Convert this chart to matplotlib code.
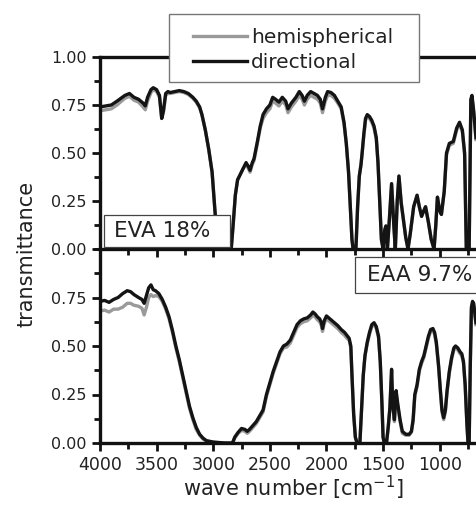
import matplotlib
matplotlib.use('Agg')
import matplotlib.pyplot as plt
from matplotlib.patches import Rectangle
from matplotlib.ticker import MultipleLocator, FixedLocator

# ----- data -----

# EVA 18%  (top panel)
wn_eva = [4000, 3950, 3900, 3850, 3780, 3740, 3700, 3660, 3620, 3600,
          3580, 3550, 3530, 3500, 3475, 3455, 3440, 3420, 3400, 3380,
          3340, 3300, 3260, 3220, 3180, 3150, 3120, 3100, 3070, 3040,
          3010, 2985, 2960, 2950, 2860, 2840, 2825, 2805, 2785, 2760,
          2735, 2710, 2690, 2675, 2655, 2640, 2610, 2585, 2560, 2530,
          2500, 2475, 2450, 2420, 2390, 2360, 2340, 2310, 2270, 2240,
          2215, 2195, 2170, 2140, 2110, 2080, 2055, 2035, 2010, 1990,
          1960, 1930, 1900, 1870, 1845, 1825, 1805, 1790, 1775, 1765,
          1740, 1725, 1710, 1695, 1685, 1670, 1655, 1640, 1620, 1600,
          1580, 1560, 1545, 1530, 1515, 1500, 1485, 1475, 1462, 1445,
          1425, 1405, 1392, 1375, 1360, 1340, 1320, 1300, 1280, 1260,
          1230, 1200, 1180, 1160, 1140, 1125, 1100, 1075, 1050, 1035,
          1020, 1000, 985, 960, 940, 915, 880, 850, 825, 800,
          780, 765, 740, 725, 715, 700, 680]
eva_dir = [.74, .745, .75, .77, .80, .81, .79, .78, .76, .745,
           .79, .83, .84, .83, .80, .68, .72, .81, .82, .815,
           .82, .825, .82, .81, .79, .77, .74, .70, .62, .52,
           .40, .20, .02, 0, 0, .01, .12, .28, .36, .39,
           .42, .45, .43, .41, .45, .47, .56, .64, .70, .73,
           .75, .79, .78, .765, .79, .77, .73, .76, .79, .82,
           .80, .77, .80, .82, .81, .80, .78, .73, .79, .82,
           .815, .80, .77, .74, .66, .55, .40, .22, .05, 0,
           0, .22, .38, .44, .50, .60, .68, .70, .69, .67,
           .64, .58, .45, .25, .05, 0, .10, .12, 0, .15,
           .34, .12, 0, .25, .38, .24, .15, .06, 0, .08,
           .22, .28, .22, .17, .20, .22, .14, .05, 0, .12,
           .27, .20, .18, .30, .50, .55, .56, .63, .66, .62,
           .50, 0, 0, .78, .80, .72, .58]
eva_hemi = [.72, .725, .73, .75, .785, .795, .775, .765, .74, .725,
            .77, .815, .83, .82, .79, .68, .71, .80, .81, .81,
            .815, .82, .815, .805, .785, .765, .735, .70, .62, .52,
            .40, .20, .02, 0, 0, .01, .12, .28, .36, .39,
            .42, .44, .42, .40, .44, .46, .55, .63, .68, .71,
            .73, .77, .76, .745, .77, .75, .71, .74, .77, .80,
            .78, .75, .78, .80, .79, .78, .76, .71, .77, .80,
            .80, .785, .76, .73, .65, .55, .40, .22, .05, 0,
            0, .22, .38, .44, .50, .59, .67, .69, .68, .66,
            .63, .57, .45, .25, .05, 0, .10, .12, 0, .15,
            .34, .12, 0, .25, .38, .24, .15, .06, 0, .08,
            .22, .28, .22, .17, .20, .22, .14, .05, 0, .12,
            .27, .20, .18, .30, .49, .54, .55, .62, .65, .61,
            .49, 0, 0, .77, .79, .71, .57]

# EAA 9.7%  (bottom panel)
wn_eaa = [4000, 3960, 3920, 3880, 3840, 3800, 3760, 3730, 3700, 3660,
          3630, 3610, 3590, 3570, 3550, 3530, 3510, 3480, 3450, 3420,
          3390, 3360, 3330, 3300, 3270, 3240, 3210, 3180, 3150, 3120,
          3090, 3060, 3000, 2900, 2830, 2810, 2780, 2750, 2720, 2700,
          2680, 2650, 2620, 2590, 2560, 2530, 2500, 2470, 2440, 2410,
          2380, 2350, 2320, 2290, 2260, 2230, 2200, 2170, 2140, 2120,
          2100, 2080, 2060, 2045, 2035, 2020, 2000, 1980, 1960, 1930,
          1900, 1870, 1840, 1820, 1800, 1785, 1775, 1760, 1745, 1730,
          1705, 1690, 1675, 1660, 1640, 1620, 1600, 1580, 1560, 1540,
          1525, 1510, 1500, 1490, 1470, 1455, 1440, 1425, 1415, 1400,
          1385, 1370, 1350, 1330, 1300, 1270, 1250, 1235, 1220, 1200,
          1180, 1160, 1140, 1120, 1100, 1080, 1060, 1045, 1030, 1010,
          995, 980, 965, 950, 935, 915, 895, 875, 860, 840,
          820, 805, 790, 775, 760, 750, 740, 730, 720, 710,
          700, 680]
eaa_dir = [.73, .735, .725, .74, .75, .77, .785, .78, .765, .75,
           .74, .72, .76, .80, .815, .79, .785, .77, .74, .70,
           .65, .58, .50, .43, .35, .27, .19, .13, .08, .045,
           .025, .012, .005, 0, 0, .03, .055, .075, .07, .06,
           .07, .09, .11, .14, .17, .25, .31, .37, .42, .47,
           .50, .51, .53, .57, .61, .63, .64, .645, .66, .675,
           .665, .65, .64, .62, .59, .63, .655, .645, .635, .62,
           .605, .585, .57, .555, .54, .50, .35, .15, .03, 0,
           0, .18, .35, .45, .52, .57, .61, .62, .60, .55,
           .42, .20, .03, 0, 0, .08, .18, .38, .20, .12,
           .27, .20, .12, .06, .045, .045, .06, .12, .25, .30,
           .38, .42, .45, .50, .55, .585, .59, .57, .52, .40,
           .28, .17, .13, .17, .27, .37, .44, .49, .50, .49,
           .47, .46, .42, .30, .10, 0, 0, .40, .70, .73,
           .72, .62]
eaa_hemi = [.68, .685, .675, .69, .69, .70, .72, .72, .71, .705,
            .695, .66, .70, .75, .765, .755, .76, .755, .73, .69,
            .64, .57, .49, .42, .34, .26, .18, .12, .07, .04,
            .02, .01, .003, 0, 0, .025, .05, .065, .06, .05,
            .06, .08, .10, .13, .16, .24, .30, .36, .41, .46,
            .49, .495, .515, .555, .595, .615, .625, .63, .645, .66,
            .65, .635, .625, .605, .575, .615, .64, .63, .62, .605,
            .59, .57, .555, .54, .53, .49, .35, .15, .03, 0,
            0, .18, .35, .45, .51, .56, .60, .61, .59, .54,
            .42, .20, .03, 0, 0, .08, .18, .37, .19, .11,
            .25, .19, .11, .05, .04, .04, .055, .11, .24, .29,
            .37, .41, .44, .49, .54, .575, .58, .56, .51, .39,
            .27, .16, .12, .16, .26, .36, .43, .48, .49, .48,
            .46, .45, .41, .29, .10, 0, 0, .40, .69, .72,
            .71, .61]

panels = [(wn_eva, eva_hemi, eva_dir, 'EVA 18%'),
          (wn_eaa, eaa_hemi, eaa_dir, 'EAA 9.7%')]

# ----- plot -----

plt.rcParams['font.family'] = 'DejaVu Sans'

W, H = 477, 517
fig = plt.figure(figsize=(W / 100, H / 100), dpi=100)

left = 100 / W
width = 385 / W   # axis runs past the right edge of the picture (4000 -> 600)
ax_top = fig.add_axes([left, (H - 249) / H, width, 192 / H])
ax_bot = fig.add_axes([left, (H - 443) / H, width, 194 / H])
ax_bot.patch.set_alpha(0)   # let the ticks of the upper panel show below the join

grey = '#9a9a9a'
for ax, (wn, hemi, dirn, name) in zip([ax_top, ax_bot], panels):
    ax.plot(wn, hemi, color=grey, lw=2.4, label='hemispherical')
    ax.plot(wn, dirn, color='#141414', lw=2.4, label='directional')
    ax.set_xlim(4000, 600)
    ax.set_ylim(0, 1.0)
    ax.xaxis.set_major_locator(MultipleLocator(500))
    ax.xaxis.set_minor_locator(MultipleLocator(250))
    ax.yaxis.set_minor_locator(MultipleLocator(0.125))
    ax.spines['right'].set_visible(False)
    for s in ['left', 'top', 'bottom']:
        ax.spines[s].set_linewidth(2.4)
        ax.spines[s].set_color('#111111')
    ax.tick_params(which='both', direction='out', width=2.0, color='#111111',
                   top=False, right=False, labelsize=11.5, labelcolor='#222222')
    ax.tick_params(which='major', length=6)
    ax.tick_params(which='minor', length=4)
    ax.yaxis.set_major_formatter(plt.FuncFormatter(lambda v, p: f'{v:.2f}'))

ax_top.yaxis.set_major_locator(FixedLocator([0, 0.25, 0.5, 0.75, 1.0]))
ax_bot.yaxis.set_major_locator(FixedLocator([0, 0.25, 0.5, 0.75]))
ax_top.tick_params(labelbottom=False)
ax_bot.tick_params(axis='x', labelsize=12.5)
ax_bot.spines['top'].set_visible(False)

# sample labels in white boxes (boxes cover the curves)
ax_top.add_patch(Rectangle((0.0104, 0.0104), 0.327, 0.167, transform=ax_top.transAxes,
                           facecolor='white', edgecolor='#444444', lw=0.9,
                           zorder=4, clip_on=False))
ax_top.text(0.037, 0.094, 'EVA 18%', transform=ax_top.transAxes, fontsize=15.5,
            va='center', ha='left', color='#222222', zorder=5)
ax_bot.add_patch(Rectangle((0.662, 0.773), 0.40, 0.186, transform=ax_bot.transAxes,
                           facecolor='white', edgecolor='#444444', lw=0.9,
                           zorder=4, clip_on=False))
ax_bot.text(0.694, 0.866, 'EAA 9.7%', transform=ax_bot.transAxes, fontsize=15.5,
            va='center', ha='left', color='#222222', zorder=5)

# legend frame drawn by hand so it can be wider than the text needs
fig.patches.append(Rectangle((169 / W, 1 - 82 / H), 250 / W, 68 / H,
                             transform=fig.transFigure, facecolor='white',
                             edgecolor='#777777', lw=1.0, zorder=4))
h, l = ax_top.get_legend_handles_labels()
leg = fig.legend(h, l, loc='center', bbox_to_anchor=(293 / W, 1 - 50 / H),
                 fontsize=14.5, handlelength=2.7, handletextpad=0.2,
                 labelspacing=0.3, borderpad=0.2, frameon=False)
leg.set_zorder(5)
for t in leg.get_texts():
    t.set_color('#222222')

fig.text(27 / W, 1 - 254 / H, 'transmittance', rotation=90, fontsize=15,
         ha='center', va='center', color='#222222')
fig.text(293 / W, 1 - 488 / H, r'wave number [cm$^{\mathregular{-1}}$]', fontsize=15,
         ha='center', va='center', color='#222222')

fig.savefig('out.png', dpi=100)
